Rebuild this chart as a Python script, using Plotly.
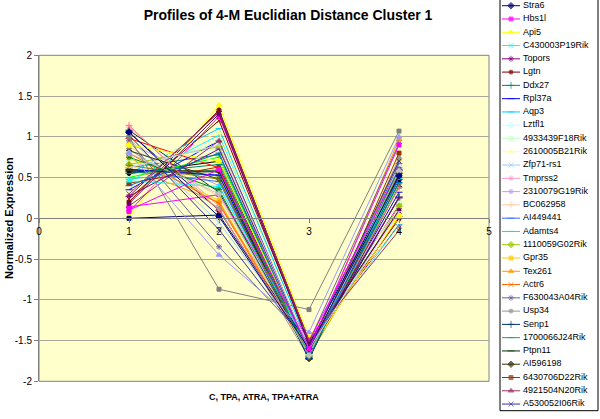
import plotly.graph_objects as go

# ---------------- data ----------------
x_positions = [1, 2, 3, 4]          # C, TPA, ATRA, TPA+ATRA

legend_genes = [
    "Stra6", "Hbs1l", "Api5", "C430003P19Rik", "Topors", "Lgtn", "Ddx27", "Rpl37a",
    "Aqp3", "Lztfl1", "4933439F18Rik", "2610005B21Rik", "Zfp71-rs1", "Tmprss2",
    "2310079G19Rik", "BC062958", "AI449441", "Adamts4", "1110059G02Rik", "Gpr35",
    "Tex261", "Actr6", "F630043A04Rik", "Usp34", "Senp1", "1700066J24Rik", "Ptpn11",
    "AI596198", "6430706D22Rik", "4921504N20Rik", "A530052I06Rik",
]
# further cluster members whose names are cut off below the legend
unlisted_genes = ["Series %d" % i for i in range(32, 56)]
genes = legend_genes + unlisted_genes

c_vals = [1.05, 0.08, 0.02, 0.45, 0.27, 0.20, 0.62, 0.35, 0.55, 0.70, 0.52, 0.60, 0.98, 1.12,
          0.92, 0.88, 0.58, 0.48, 0.66, 0.74, 0.62, 0.80, 0.95, 0.85, 1.08, 0.60, 0.57, 0.59,
          0.43, 0.15, 1.02,
          0.83, 0.55, 0.98, 0.50, 0.60, 0.90, 0.14, 0.46, 0.24, 0.75, 0.00, 0.65, 0.27, 0.55,
          0.80, 1.00, 0.80, 0.30, 0.18, 1.14, 0.40, 0.62, 1.06, 0.10]
tpa_vals = [0.10, 1.25, 1.39, 1.02, 1.31, 1.33, 0.78, 0.95, 1.10, 0.85, 0.95, 1.05, -0.05, 0.15,
            0.40, 0.27, 0.45, 0.60, 0.88, 0.22, 0.20, 0.18, -0.35, 0.12, 0.32, 0.52, 0.57, 0.58,
            0.63, 0.95, -0.14,
            0.48, 0.70, 0.62, 0.75, 0.53, 0.70, 0.29, 0.39, 1.20, 0.35, 0.04, 0.48, 0.85, 0.66,
            0.30, -0.87, -0.45, 1.30, 1.28, 0.10, 0.80, 0.90, 0.02, 0.60]
atra_vals = [-1.63, -1.49, -1.46, -1.55, -1.50, -1.52, -1.66, -1.62, -1.57, -1.66, -1.68, -1.60,
             -1.55, -1.52, -1.71, -1.65, -1.70, -1.70, -1.69, -1.68, -1.66, -1.68, -1.52, -1.71,
             -1.66, -1.72, -1.73, -1.72, -1.71, -1.65, -1.58,
             -1.70, -1.69, -1.62, -1.68, -1.72, -1.63, -1.50, -1.60, -1.53, -1.70, -1.55, -1.69,
             -1.60, -1.71, -1.68, -1.12, -1.40, -1.50, -1.55, -1.62, -1.64, -1.60, -1.60, -1.60]
combo_vals = [0.48, 0.16, 0.05, 0.08, -0.08, -0.01, 0.26, 0.32, -0.08, 0.11, 0.21, -0.05, 0.62,
              0.25, 0.39, 0.50, 0.67, 0.62, 0.15, 0.72, 0.97, 0.70, 0.92, 0.74, 0.26, 0.60, 0.59,
              0.55, 0.80, 0.55, 0.70,
              0.39, 0.44, 0.02, 0.43, 0.59, 0.03, 0.60, 0.50, 0.09, 0.60, 0.54, 0.56, 0.25, 0.50,
              0.58, 1.07, 1.00, -0.15, 0.10, 0.38, 0.44, 0.08, 0.52, 0.90]

x_ticks = [0, 1, 2, 3, 4, 5]
y_ticks = [-2, -1.5, -1, -0.5, 0, 0.5, 1, 1.5, 2]
y_tick_labels = ["-2", "-1.5", "-1", "-0.5", "0", "0.5", "1", "1.5", "2"]

# ---------------- styles (Excel 2003 series cycle) ----------------
colors = ["#000080", "#FF00FF", "#FFFF00", "#00FFFF", "#800080", "#800000", "#008080", "#0000FF",
          "#00CCFF", "#CCFFFF", "#CCFFCC", "#FFFF99", "#99CCFF", "#FF99CC", "#CC99FF", "#FFCC99",
          "#3366FF", "#33CCCC", "#99CC00", "#FFCC00", "#FF9900", "#FF6600", "#666699", "#969696",
          "#003366", "#339966", "#003300", "#333300", "#993300", "#993366", "#333399",
          "#333333", "#000000", "#FF0000", "#00FF00", "#0000FF", "#FFFF00", "#FF00FF", "#00FFFF",
          "#800000", "#008000", "#000080", "#808000", "#800080", "#008080", "#C0C0C0", "#808080",
          "#9999FF", "#993366", "#660066", "#FF8080", "#0066CC", "#CCCCFF", "#000080", "#FF00FF"]
kinds = ["diamond", "square", "triangle", "x", "star", "circle", "cross", "dash", "dash"] * 3 + \
        ["diamond", "square", "triangle", "x"] + \
        ["star", "circle", "cross", "dash", "dash", "diamond", "square", "triangle", "x", "star",
         "square", "cross", "dash", "dash", "diamond", "square", "triangle", "x", "circle", "cross",
         "dash", "dash", "diamond", "square"]
sym_map = {"diamond": ("diamond", 5), "square": ("square", 4), "triangle": ("triangle-up", 5),
           "x": ("x-thin-open", 5), "star": ("asterisk-open", 5), "circle": ("circle", 4),
           "cross": ("cross-thin-open", 5), "dash": ("line-ew-open", 5)}

FONT = "Liberation Sans, Arial, sans-serif"
W, H = 600, 419
MAIN_X = [39 / W, 489 / W]
MAIN_Y = [(H - 381.3) / H, (H - 55.3) / H]
LEG_X = [500 / W, 598 / W]
LEG_Y = [(H - 410.7) / H, 1.0]

fig = go.Figure()

for i, g in enumerate(genes):
    sym, sz = sym_map[kinds[i]]
    fig.add_trace(go.Scatter(
        x=x_positions, y=[c_vals[i], tpa_vals[i], atra_vals[i], combo_vals[i]],
        name=g, mode="lines+markers", showlegend=False,
        line=dict(color=colors[i], width=1),
        marker=dict(symbol=sym, size=sz, color=colors[i], line=dict(color=colors[i], width=1)),
        xaxis="x", yaxis="y"))

# legend drawn in its own small axes
n_leg = len(legend_genes)
for i in range(n_leg):
    sym, sz = sym_map[kinds[i]]
    fig.add_trace(go.Scatter(
        x=[2, 11, 20], y=[i, i, i], mode="lines+markers", showlegend=False, hoverinfo="skip",
        line=dict(color=colors[i], width=1),
        marker=dict(symbol=sym, size=[0, sz, 0], color=colors[i],
                    line=dict(color=colors[i], width=1)),
        xaxis="x2", yaxis="y2"))
fig.add_trace(go.Scatter(
    x=[23] * n_leg, y=list(range(n_leg)), text=legend_genes, mode="text",
    textposition="middle right", textfont=dict(family=FONT, size=9, color="#000000"),
    showlegend=False, hoverinfo="skip", xaxis="x2", yaxis="y2", cliponaxis=False))

y0_pos = MAIN_Y[0] + (0 - (-2)) / 4 * (MAIN_Y[1] - MAIN_Y[0])

fig.update_layout(
    width=W, height=H, margin=dict(l=0, r=0, t=0, b=0, autoexpand=False),
    paper_bgcolor="#FFFFFF", plot_bgcolor="rgba(0,0,0,0)",
    font=dict(family=FONT, size=10, color="#000000"),
    title=dict(text="<b>Profiles of 4-M Euclidian Distance Cluster 1</b>",
               x=288 / W, xanchor="center", xref="paper", y=1 - 15 / H, yanchor="middle",
               yref="container", font=dict(family=FONT, size=14, color="#000000")),
    xaxis=dict(domain=MAIN_X, range=[0, 5], tickvals=x_ticks, ticktext=[str(t) for t in x_ticks],
               anchor="free", position=y0_pos, showgrid=False, zeroline=False, automargin=False,
               showline=True, linecolor="#808080", linewidth=1,
               ticks="outside", ticklen=4, tickcolor="#808080",
               tickfont=dict(family=FONT, size=10, color="#000000")),
    yaxis=dict(domain=MAIN_Y, range=[-2, 2], tickvals=y_ticks, ticktext=y_tick_labels,
               anchor="x", showgrid=True, gridcolor="#A8A898", gridwidth=1, zeroline=False,
               showline=True, linecolor="#808080", linewidth=1, automargin=False,
               ticks="outside", ticklen=4, tickcolor="#808080",
               tickfont=dict(family=FONT, size=10, color="#000000")),
    xaxis2=dict(domain=LEG_X, range=[0, 98], visible=False, anchor="y2", automargin=False),
    yaxis2=dict(domain=LEG_Y, range=[30.5, -0.43], visible=False, anchor="x2", automargin=False),
    shapes=[
        dict(type="rect", xref="paper", yref="paper", x0=MAIN_X[0], x1=MAIN_X[1],
             y0=MAIN_Y[0], y1=MAIN_Y[1], fillcolor="#FFFFCC",
             line=dict(color="#808080", width=1), layer="below"),
        dict(type="rect", xref="paper", yref="paper", x0=LEG_X[0], x1=LEG_X[1],
             y0=LEG_Y[0], y1=1.02, fillcolor="rgba(0,0,0,0)",
             line=dict(color="#000000", width=1), layer="above"),
    ],
    annotations=[
        dict(text="<b>C, TPA, ATRA, TPA+ATRA</b>", xref="paper", yref="paper",
             x=(MAIN_X[0] + MAIN_X[1]) / 2, y=(H - 397) / H, showarrow=False,
             xanchor="center", yanchor="middle", font=dict(family=FONT, size=9, color="#000000")),
        dict(text="<b>Normalized Expression</b>", xref="paper", yref="paper",
             x=9 / W, y=(H - 218) / H, showarrow=False, textangle=-90,
             xanchor="center", yanchor="middle", font=dict(family=FONT, size=11, color="#000000")),
    ],
)

fig.write_html("out.html", config={"displayModeBar": False},
               post_script="document.body.style.margin='0';document.body.style.overflow='hidden';")
